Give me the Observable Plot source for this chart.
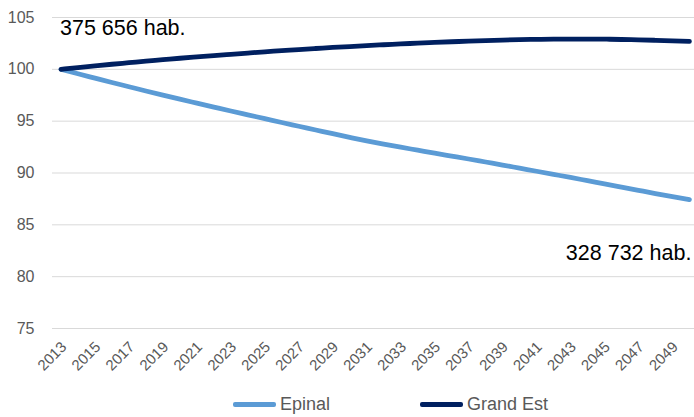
<!DOCTYPE html>
<html>
<head>
<meta charset="utf-8">
<script src="https://cdn.jsdelivr.net/npm/d3@7"></script>
<script src="https://cdn.jsdelivr.net/npm/@observablehq/plot@0.6"></script>
<style>
  body { margin: 0; background: #fff; font-family: "Liberation Sans", Arial, sans-serif; }
  #wrap { position: relative; width: 694px; height: 417px; }
  #legend { position: absolute; left: 0; top: 380px; width: 694px; height: 37px; }
  .item { position: absolute; top: 14px; display: flex; align-items: center; font-size: 18px; color: #595959; }
  .sw { width: 43px; height: 4.5px; border-radius: 2px; margin-right: 4px; }
</style>
</head>
<body>
<div id="wrap">
  <div id="chart"></div>
  <div id="legend"></div>
</div>
<script>
const years = d3.range(2013, 2051);
const epinal = [100.00, 99.57, 99.15, 98.73, 98.32, 97.91, 97.51, 97.12, 96.74, 96.36,
  95.98, 95.61, 95.24, 94.87, 94.51, 94.15, 93.79, 93.44, 93.10, 92.79,
  92.49, 92.20, 91.91, 91.63, 91.35, 91.06, 90.77, 90.47, 90.17, 89.87,
  89.57, 89.26, 88.95, 88.64, 88.33, 88.02, 87.72, 87.43];
const grandEst = [100.00, 100.17, 100.33, 100.49, 100.64, 100.79, 100.93, 101.07, 101.20, 101.33,
  101.45, 101.57, 101.69, 101.80, 101.91, 102.01, 102.11, 102.20, 102.29, 102.37,
  102.45, 102.53, 102.60, 102.66, 102.72, 102.77, 102.82, 102.86, 102.89, 102.91,
  102.92, 102.92, 102.91, 102.88, 102.85, 102.80, 102.75, 102.70];
const seriesNames = ["Epinal", "Grand Est"];
const seriesColors = ["#5B9BD5", "#002060"];
const yTicks = [75, 80, 85, 90, 95, 100, 105];
const xTicks = d3.range(2013, 2050, 2);
const annotYears = [2013, 2050];
const annotValues = [104.0, 82.3];
const annotLabels = ["375 656 hab.", "328 732 hab."];
const annotAnchors = ["start", "end"];

const rows = [];
years.forEach((y, i) => {
  rows.push({year: y, value: epinal[i], series: seriesNames[0]});
  rows.push({year: y, value: grandEst[i], series: seriesNames[1]});
});
const annots = annotLabels.map((l, i) => ({year: annotYears[i], value: annotValues[i], label: l, anchor: annotAnchors[i]}));

const chart = Plot.plot({
  width: 694,
  height: 380,
  marginLeft: 52,
  marginRight: 0,
  marginTop: 17,
  marginBottom: 52,
  style: {fontFamily: "'Liberation Sans', Arial, sans-serif", background: "#fff"},
  x: {domain: [2012.5, 2050.3]},
  y: {domain: [75, 105]},
  color: {domain: seriesNames, range: seriesColors},
  marks: [
    Plot.ruleY(yTicks, {stroke: "#d9d9d9", strokeWidth: 1}),
    Plot.axisY({ticks: yTicks, tickSize: 0, tickPadding: 18, fontSize: 16, fill: "#595959", label: null}),
    Plot.axisX({ticks: xTicks, tickSize: 0, tickPadding: 16, dx: 3, tickRotate: -45, fontSize: 15, fill: "#595959", label: null, tickFormat: d => String(d)}),
    Plot.line(rows, {x: "year", y: "value", z: "series", stroke: "series", strokeWidth: 4.8, curve: "monotone-x", strokeLinecap: "round", strokeLinejoin: "round"}),
    Plot.text(annots.filter(d => d.anchor === "start"), {x: "year", y: "value", text: "label", textAnchor: "start", fontSize: 21.5, fill: "#000", dx: -1}),
    Plot.text(annots.filter(d => d.anchor === "end"), {x: "year", y: "value", text: "label", textAnchor: "end", fontSize: 21.5, fill: "#000", dx: 2})
  ]
});
document.getElementById("chart").appendChild(chart);

const legend = document.getElementById("legend");
const lefts = [233, 420];
seriesNames.forEach((n, i) => {
  const it = document.createElement("div");
  it.className = "item";
  it.style.left = lefts[i] + "px";
  it.innerHTML = `<span class="sw" style="background:${seriesColors[i]}"></span><span>${n}</span>`;
  legend.appendChild(it);
});
</script>
</body>
</html>
